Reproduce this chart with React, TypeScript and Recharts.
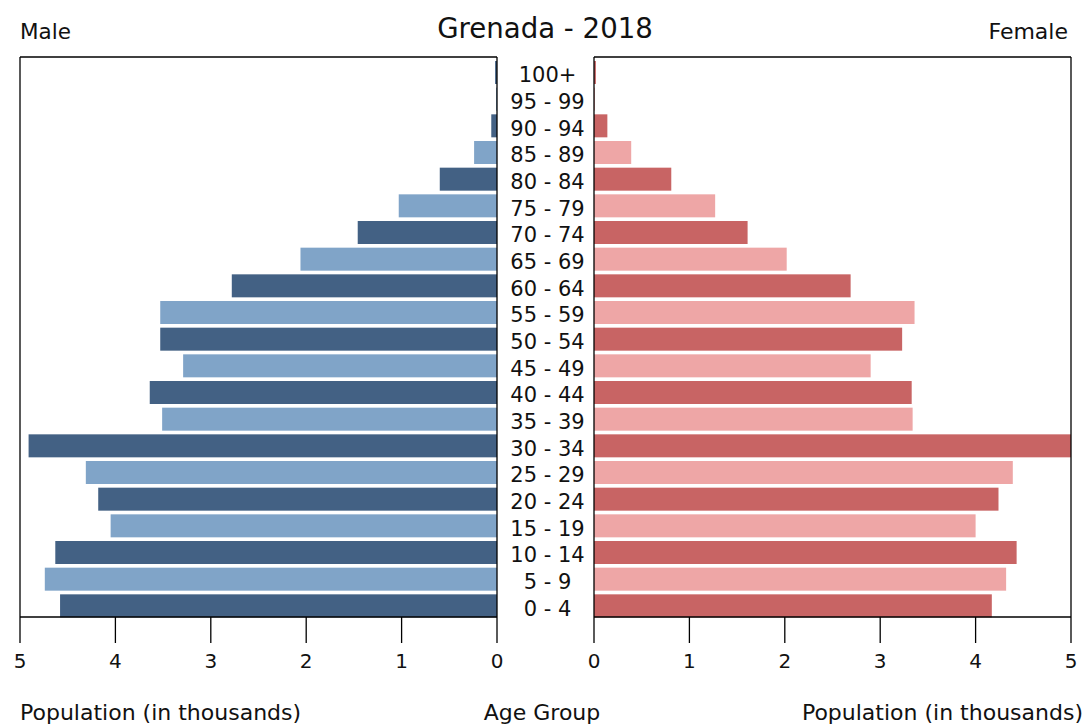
import React from 'react';
import { BarChart, Bar, XAxis, YAxis, Cell } from 'recharts';

const ageGroups = ['0 - 4', '5 - 9', '10 - 14', '15 - 19', '20 - 24', '25 - 29', '30 - 34', '35 - 39', '40 - 44', '45 - 49', '50 - 54', '55 - 59', '60 - 64', '65 - 69', '70 - 74', '75 - 79', '80 - 84', '85 - 89', '90 - 94', '95 - 99', '100+'];
const maleValues = [4.58, 4.74, 4.63, 4.05, 4.18, 4.31, 4.91, 3.51, 3.64, 3.29, 3.53, 3.53, 2.78, 2.06, 1.46, 1.03, 0.6, 0.24, 0.06, 0.01, 0.02];
const femaleValues = [4.17, 4.32, 4.43, 4.0, 4.24, 4.39, 5.0, 3.34, 3.33, 2.9, 3.23, 3.36, 2.69, 2.02, 1.61, 1.27, 0.81, 0.39, 0.14, 0.01, 0.02];
const xTicks = [0, 1, 2, 3, 4, 5];
const maleColors = ['#436184', '#80a4c8'];
const femaleColors = ['#c86464', '#eea6a6'];

const data = ageGroups.map((age, i) => ({ age, male: maleValues[i], female: femaleValues[i] }));

const FONT = '"DejaVu Sans", sans-serif';
const TEXT = '#111';
const frameLine = { stroke: '#000', strokeWidth: 1.3 };

const AgeTick = (props: any) => (
  <text x={props.x + 48.5} y={props.y} dy={12} textAnchor="middle" fontSize={21} fontFamily={FONT} fill={TEXT}>
    {props.payload.value}
  </text>
);

const ShiftedBar = (props: any) => {
  const w = props.width || 0;
  const x = w < 0 ? props.x + w : props.x;
  return <rect x={x} y={props.y + 2} width={Math.abs(w)} height={props.height} fill={props.fill} />;
};

export default function App() {
  return (
    <div style={{ position: 'relative', width: 1087, height: 725, background: '#fff', overflow: 'hidden' }}>
      <style>{`body{margin:0;background:#fff;}`}</style>
      <div style={{ position: 'absolute', left: 0, top: 0 }}>
        <BarChart layout="vertical" width={594} height={725} data={data}
          margin={{ top: 56, right: 0, bottom: 68, left: 19 }} barCategoryGap="7.5%">
          <XAxis type="number" domain={[0, 5]} reversed ticks={xTicks} interval={0} allowDataOverflow
            tickSize={26} tickMargin={11} height={40}
            axisLine={frameLine} tickLine={frameLine}
            tick={{ fill: TEXT, fontSize: 20, fontFamily: FONT }} />
          <XAxis xAxisId="top" orientation="top" type="number" domain={[0, 5]} reversed height={1}
            tick={false} tickLine={false} axisLine={frameLine} />
          <YAxis yAxisId="frame" type="category" dataKey="age" reversed orientation="left" width={1}
            tick={false} tickLine={false} axisLine={frameLine} />
          <YAxis type="category" dataKey="age" reversed orientation="right" width={97} interval={0}
            tickLine={false} tickSize={0} axisLine={frameLine} tick={<AgeTick />} />
          <Bar dataKey="male" isAnimationActive={false} shape={<ShiftedBar />}>
            {data.map((d, i) => <Cell key={d.age} fill={maleColors[i % 2]} />)}
          </Bar>
        </BarChart>
      </div>
      <div style={{ position: 'absolute', left: 544, top: 0 }}>
        <BarChart layout="vertical" width={543} height={725} data={data}
          margin={{ top: 56, right: 15, bottom: 68, left: 49 }} barCategoryGap="7.5%">
          <XAxis type="number" domain={[0, 5]} ticks={xTicks} interval={0} allowDataOverflow
            tickSize={26} tickMargin={11} height={40}
            axisLine={frameLine} tickLine={frameLine}
            tick={{ fill: TEXT, fontSize: 20, fontFamily: FONT }} />
          <XAxis xAxisId="top" orientation="top" type="number" domain={[0, 5]} height={1}
            tick={false} tickLine={false} axisLine={frameLine} />
          <YAxis type="category" dataKey="age" reversed orientation="left" width={1}
            tick={false} tickLine={false} axisLine={frameLine} />
          <YAxis yAxisId="frame" type="category" dataKey="age" reversed orientation="right" width={1}
            tick={false} tickLine={false} axisLine={frameLine} />
          <Bar dataKey="female" isAnimationActive={false} shape={<ShiftedBar />}>
            {data.map((d, i) => <Cell key={d.age} fill={femaleColors[i % 2]} />)}
          </Bar>
        </BarChart>
      </div>
      <svg width={1087} height={725} style={{ position: 'absolute', left: 0, top: 0, pointerEvents: 'none' }}>
        <g fontFamily={FONT} fill={TEXT}>
          <text x={545} y={38} textAnchor="middle" fontSize={27.6}>Grenada - 2018</text>
          <text x={20} y={39} fontSize={21.5}>Male</text>
          <text x={1068} y={39} textAnchor="end" fontSize={22}>Female</text>
          <text x={20} y={720} fontSize={22}>Population (in thousands)</text>
          <text x={542} y={720} textAnchor="middle" fontSize={22}>Age Group</text>
          <text x={1083} y={720} textAnchor="end" fontSize={22}>Population (in thousands)</text>
        </g>
      </svg>
    </div>
  );
}
